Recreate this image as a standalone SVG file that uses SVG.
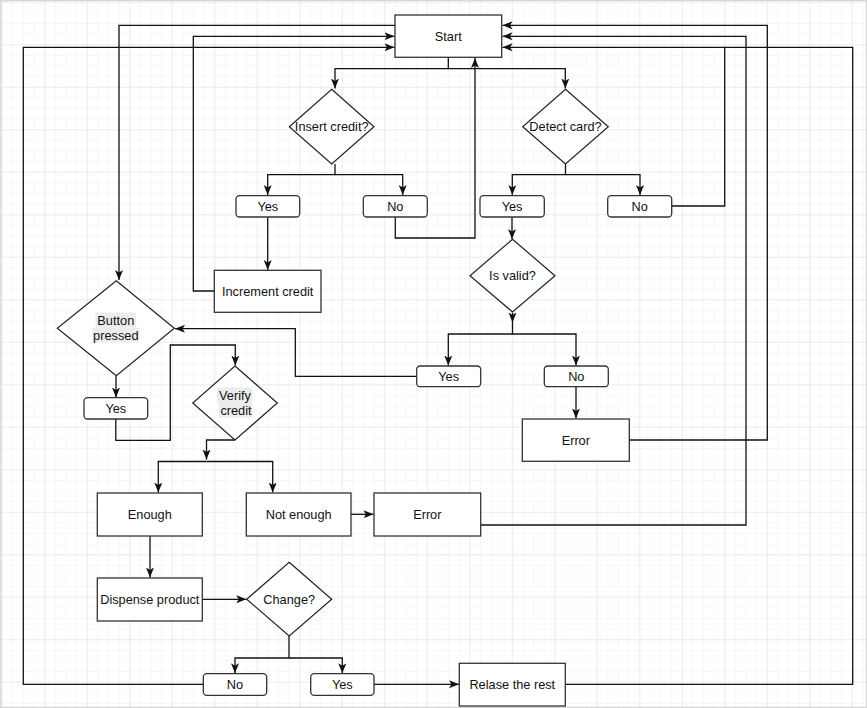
<svg xmlns="http://www.w3.org/2000/svg" width="867" height="708" viewBox="0 0 867 708">
<defs>
<pattern id="minor" x="1.8" y="1.8" width="10.625" height="10.625" patternUnits="userSpaceOnUse">
<path d="M0,0 H10.625 M0,0 V10.625" fill="none" stroke="#efefef" stroke-width="1"/>
</pattern>
<pattern id="major" x="1.8" y="1.8" width="42.5" height="42.5" patternUnits="userSpaceOnUse">
<path d="M0,0 H42.5 M0,0 V42.5" fill="none" stroke="#e2e2e2" stroke-width="1"/>
</pattern>
<marker id="arr" markerUnits="userSpaceOnUse" markerWidth="11" markerHeight="9" refX="10" refY="4" orient="auto">
<path d="M0,0 L10,4 L0,8 L2.4,4 Z" fill="#111"/>
</marker>
</defs>
<style>
.box{fill:#fff;stroke:#333;stroke-width:1.3}
.dia{fill:#fff;stroke:#222;stroke-width:1.2}
.t{font-family:"Liberation Sans",Arial,sans-serif;font-size:12.75px;fill:#111;text-anchor:middle;dominant-baseline:central}
.hl{fill:#ececec}
#connectors path{fill:none;stroke:#111;stroke-width:1.3}
.a{marker-end:url(#arr)}
</style>
<rect x="0" y="0" width="867" height="708" fill="#fff"/>
<rect x="0" y="0" width="867" height="708" fill="url(#minor)"/>
<rect x="0" y="0" width="867" height="708" fill="url(#major)"/>
<rect x="0.5" y="0.5" width="866" height="707" fill="none" stroke="#d6d6d6" stroke-width="1.5"/>

<g id="connectors">
<path class="a" d="M448.3,57.3 V68.7 H335 V88.5"/>
<path class="a" d="M448.3,68.7 H565.3 V88.5"/>
<path class="a" d="M335,164 V174.7 H267.7 V195"/>
<path class="a" d="M335,174.7 H402.7 V195"/>
<path class="a" d="M565.5,164 V174.7 H512.3 V195"/>
<path class="a" d="M565.5,174.7 H640 V195"/>
<path class="a" d="M395.3,217 V238 H475 V58"/>
<path class="a" d="M671.7,206 H724.7 V47.3 H502.5"/>
<path d="M565.3,684.3 H852.7 V47.3 H724.7"/>
<path class="a" d="M629.3,440 H767.3 V25.3 H502.5"/>
<path class="a" d="M480.7,525 H746 V36.3 H502.5"/>
<path class="a" d="M395,25.3 H119 V280"/>
<path class="a" d="M214.3,291 H193.3 V36.3 H394.5"/>
<path class="a" d="M203.3,684.3 H23.3 V47.3 H394.5"/>
<path class="a" d="M267.7,217 V270"/>
<path class="a" d="M512,217 V239"/>
<path class="a" d="M512.5,312.7 V322.5"/>
<path class="a" d="M512.5,322 V334 H448.3 V365.5"/>
<path class="a" d="M512.5,334 H576 V365.5"/>
<path class="a" d="M576,386.7 V418.5"/>
<path class="a" d="M416.7,376.3 H295.3 V328.7 H175"/>
<path class="a" d="M116,375.7 V397.5"/>
<path class="a" d="M115.8,419 V440.3 H170.3 V345 H235.3 V365.5"/>
<path class="a" d="M235,440 H206.5 V459.5"/>
<path class="a" d="M206.5,461.5 H158.3 V492.5"/>
<path class="a" d="M206.5,461.5 H272.7 V492.5"/>
<path class="a" d="M351,514.3 H373.5"/>
<path class="a" d="M150,536 V577.5"/>
<path class="a" d="M202.3,599.3 H246.3"/>
<path class="a" d="M289,636 V658 H235 V673.3"/>
<path class="a" d="M289,658 H342.3 V673.3"/>
<path class="a" d="M374,684.3 H459"/>
</g>

<g id="start"><rect class="box" x="395" y="15" width="106.7" height="42.3"/><text class="t" x="448.3" y="36">Start</text></g>
<g id="insert-credit"><polygon class="dia" points="331.7,89.3 374,126.7 331.7,164 289.3,126.7"/><text class="t" x="331.7" y="126.7">Insert credit?</text></g>
<g id="detect-card"><polygon class="dia" points="565.5,89.3 608.3,126.7 565.5,164 522.7,126.7"/><text class="t" x="565.5" y="126.7">Detect card?</text></g>
<g id="yes-insert"><rect class="box" x="236" y="195.7" width="63.7" height="21.3" rx="3.5"/><text class="t" x="267.8" y="206.3">Yes</text></g>
<g id="no-insert"><rect class="box" x="363.3" y="195.7" width="64" height="21.3" rx="3.5"/><text class="t" x="395.3" y="206.3">No</text></g>
<g id="yes-detect"><rect class="box" x="480" y="195.7" width="64.3" height="21.3" rx="3.5"/><text class="t" x="512.1" y="206.3">Yes</text></g>
<g id="no-detect"><rect class="box" x="607.7" y="195.7" width="64" height="21.3" rx="3.5"/><text class="t" x="639.7" y="206.3">No</text></g>
<g id="increment-credit"><rect class="box" x="214.3" y="270.3" width="106.7" height="42"/><text class="t" x="267.7" y="291.3">Increment credit</text></g>
<g id="is-valid"><polygon class="dia" points="512.5,239.3 555,275.7 512.5,312 470,275.7"/><text class="t" x="512.5" y="275.7">Is valid?</text></g>
<g id="yes-valid"><rect class="box" x="416.7" y="366" width="64" height="20.7" rx="3.5"/><text class="t" x="448.7" y="376.3">Yes</text></g>
<g id="no-valid"><rect class="box" x="544.3" y="366" width="64" height="20.7" rx="3.5"/><text class="t" x="576.3" y="376.3">No</text></g>
<g id="error-valid"><rect class="box" x="522.3" y="419" width="107" height="42.3"/><text class="t" x="575.8" y="440">Error</text></g>
<g id="button-pressed"><polygon class="dia" points="116.3,280.7 174.3,328.2 116.3,375.7 57.3,328.2"/>
<rect class="hl" x="95.5" y="312.5" width="40.5" height="15"/><rect class="hl" x="92.5" y="327.5" width="46.5" height="15"/>
<text class="t" x="115.8" y="320.3">Button</text><text class="t" x="115.8" y="335.3">pressed</text></g>
<g id="yes-button"><rect class="box" x="84" y="397.7" width="63.7" height="21.3" rx="3.5"/><text class="t" x="115.8" y="408.3">Yes</text></g>
<g id="verify-credit"><polygon class="dia" points="235,366 277.3,403 235,440 192.7,403"/>
<rect class="hl" x="217" y="387.5" width="35" height="15"/><rect class="hl" x="219" y="402.5" width="33" height="15"/>
<text class="t" x="235" y="395.3">Verify</text><text class="t" x="236" y="410.3">credit</text></g>
<g id="enough"><rect class="box" x="97.3" y="493" width="105" height="43"/><text class="t" x="149.8" y="514.5">Enough</text></g>
<g id="not-enough"><rect class="box" x="246.3" y="493" width="104.7" height="43"/><text class="t" x="298.7" y="514.5">Not enough</text></g>
<g id="error-credit"><rect class="box" x="374" y="493" width="106.7" height="43"/><text class="t" x="427.3" y="514.5">Error</text></g>
<g id="dispense-product"><rect class="box" x="97.3" y="578" width="105" height="43"/><text class="t" x="149.8" y="599.5">Dispense product</text></g>
<g id="change"><polygon class="dia" points="289.2,562.3 331.7,599.2 289.2,636 246.7,599.2"/><text class="t" x="289.2" y="599.2">Change?</text></g>
<g id="no-change"><rect class="box" x="203.3" y="673.7" width="63.4" height="21.6" rx="3.5"/><text class="t" x="235" y="684.5">No</text></g>
<g id="yes-change"><rect class="box" x="310.7" y="673.7" width="63.3" height="21.6" rx="3.5"/><text class="t" x="342.3" y="684.5">Yes</text></g>
<g id="relase-rest"><rect class="box" x="459.3" y="663.3" width="106" height="42.7"/><text class="t" x="512.3" y="684.7">Relase the rest</text></g>
</svg>
